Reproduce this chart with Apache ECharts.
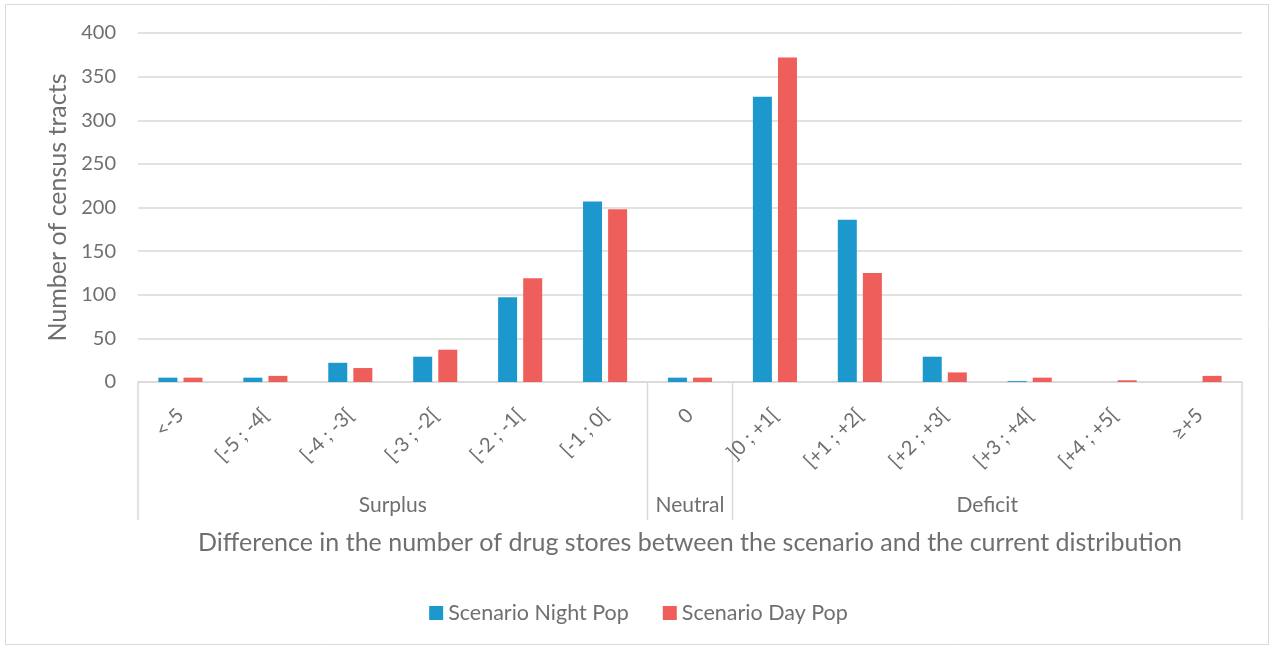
<!DOCTYPE html>
<html>
<head>
<meta charset="utf-8">
<script src="https://cdn.jsdelivr.net/npm/echarts@6/dist/echarts.min.js"></script>
<style>
  html, body { margin: 0; padding: 0; background: #fff; }
  #chart { width: 1277px; height: 651px; }
</style>
</head>
<body>
<div id="chart"></div>
<script>
// Difference classes (drug stores: scenario minus current)
const categories = ['<-5', '[-5 ; -4[', '[-4 ; -3[', '[-3 ; -2[', '[-2 ; -1[', '[-1 ; 0[', '0',
  ']0 ; +1[', '[+1 ; +2[', '[+2 ; +3[', '[+3 ; +4[', '[+4 ; +5[', '≥+5'];
// Number of census tracts per class
const nightPop = [5, 5, 22, 29, 97, 207, 5, 327, 186, 29, 1, 0, 0];
const dayPop = [5, 7, 16, 37, 119, 198, 5, 372, 125, 11, 5, 2, 7];
// Category groups: [label, first index, last index]
const groups = [['Surplus', 0, 5], ['Neutral', 6, 6], ['Deficit', 7, 12]];
const yTicks = [0, 50, 100, 150, 200, 250, 300, 350, 400];

const FONT = 'Lato, "Open Sans", sans-serif';
const TEXT = '#6f6f6f';
const LINE = '#d9d9d9';

const chart = echarts.init(document.getElementById('chart'));

const option = {
  animation: false,
  textStyle: { fontFamily: FONT },
  grid: { left: 138, right: 35, top: 33, bottom: 269, containLabel: false },
  legend: {
    bottom: 22,
    left: 'center',
    itemWidth: 14,
    itemHeight: 14,
    itemGap: 34,
    icon: 'rect',
    textStyle: { color: TEXT, fontSize: 21.5, fontFamily: FONT },
    data: ['Scenario Night Pop', 'Scenario Day Pop']
  },
  xAxis: {
    type: 'category',
    data: categories,
    axisLine: { lineStyle: { color: LINE, width: 1.5 } },
    axisTick: { show: false },
    axisLabel: {
      rotate: 45,
      interval: 0,
      color: TEXT,
      fontSize: 20,
      margin: 30,
      fontFamily: FONT
    },
    name: 'Difference in the number of drug stores between the scenario and the current distribution',
    nameLocation: 'middle',
    nameGap: 148,
    nameTextStyle: { color: TEXT, fontSize: 25, fontFamily: FONT }
  },
  yAxis: {
    type: 'value',
    min: yTicks[0],
    max: yTicks[yTicks.length - 1],
    interval: yTicks[1] - yTicks[0],
    axisLine: { show: false },
    axisTick: { show: false },
    splitLine: { lineStyle: { color: LINE, width: 1.5 } },
    axisLabel: { color: TEXT, fontSize: 20, margin: 22, fontFamily: FONT },
    name: 'Number of census tracts',
    nameLocation: 'middle',
    nameGap: 68,
    nameTextStyle: { color: TEXT, fontSize: 25, fontFamily: FONT }
  },
  series: [
    {
      name: 'Scenario Night Pop',
      type: 'bar',
      data: nightPop,
      barWidth: 19,
      barGap: '32%',
      itemStyle: { color: '#1c98cd' }
    },
    {
      name: 'Scenario Day Pop',
      type: 'bar',
      data: dayPop,
      barWidth: 19,
      itemStyle: { color: '#ee5e5a' }
    }
  ]
};

chart.setOption(option);

// Group brackets below the category labels, placed from the x axis scale
function drawGroups() {
  const p0 = chart.convertToPixel({ xAxisIndex: 0 }, 0);
  const p1 = chart.convertToPixel({ xAxisIndex: 0 }, 1);
  const band = p1 - p0;
  const axisY = chart.convertToPixel({ yAxisIndex: 0 }, 0);
  const bottomY = 520;
  const elements = [];
  const edges = new Set();
  groups.forEach(([label, a, b]) => {
    const left = chart.convertToPixel({ xAxisIndex: 0 }, a) - band / 2;
    const right = chart.convertToPixel({ xAxisIndex: 0 }, b) + band / 2;
    edges.add(Math.round(left * 2) / 2);
    edges.add(Math.round(right * 2) / 2);
    elements.push({
      type: 'text',
      x: (left + right) / 2,
      y: 505,
      style: {
        text: label, fill: TEXT, fontSize: 21, fontFamily: FONT,
        align: 'center', verticalAlign: 'middle'
      }
    });
  });
  edges.forEach(x => {
    elements.push({
      type: 'line',
      shape: { x1: x, y1: axisY, x2: x, y2: bottomY },
      style: { stroke: LINE, lineWidth: 1.5 }
    });
  });
  // outer frame of the chart area
  elements.push({
    type: 'rect',
    shape: { x: 5.5, y: 4.5, width: 1263, height: 640 },
    style: { fill: null, stroke: '#d9d9d9', lineWidth: 1 },
    silent: true
  });
  chart.setOption({ graphic: elements });
}
drawGroups();
</script>
</body>
</html>
